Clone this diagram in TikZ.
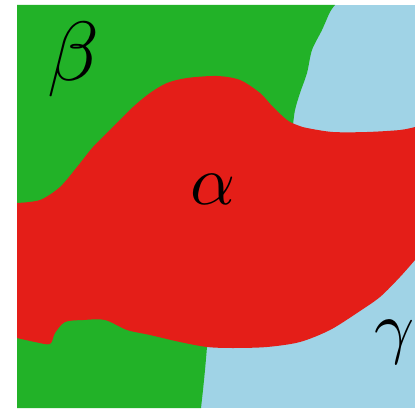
\documentclass[tikz,border=0pt]{standalone}
\definecolor{alphared}{RGB}{228,30,24}
\definecolor{betagreen}{RGB}{34,178,40}
\definecolor{gammablue}{RGB}{160,211,230}
\begin{document}
\begin{tikzpicture}[x=1pt, y=-1pt,
    phase/.style={inner sep=0pt, scale=7}]
  \fill[white] (0,0) rectangle (415,412);
  \useasboundingbox (0,0) rectangle (415,412);
  % gamma phase: the whole frame
  \fill[gammablue] (17,5) rectangle (415,408);
  % beta phase
  \fill[betagreen] (17,5)
    -- plot[smooth] coordinates {(335,5) (330,12) (322,30) (312,50) (307,73) (300,93) (295,110) (293,125)}
    -- (290,250)
    -- plot[smooth] coordinates {(207,347) (205,370) (203,390) (201,408)}
    -- (17,408) -- cycle;
  % alpha phase
  \fill[alphared] (17,203)
    -- plot[smooth] coordinates {(17,203) (40,200) (60,187) (77,167) (93,147) (110,130) (133,107)
      (150,93) (167,83) (187,78) (217,76) (240,80) (260,93) (273,107) (287,120) (297,125)
      (307,128) (333,132) (367,132) (400,130) (415,127)}
    -- (415,260)
    -- plot[smooth] coordinates {(415,260) (400,277) (380,297) (357,313) (330,330) (300,342)
      (267,347) (233,348) (207,347) (180,342) (150,335) (127,330) (105,320) (83,320)
      (65,322) (55,333) (50,344) (35,342) (17,338)}
    -- cycle;
  \node[phase, scale=1.2] (beta) at (73,60) {$\beta$};
  \node[phase] (alpha) at (213,189) {$\alpha$};
  \node[phase] (gamma) at (395,342) {$\gamma$};
\end{tikzpicture}
\end{document}
